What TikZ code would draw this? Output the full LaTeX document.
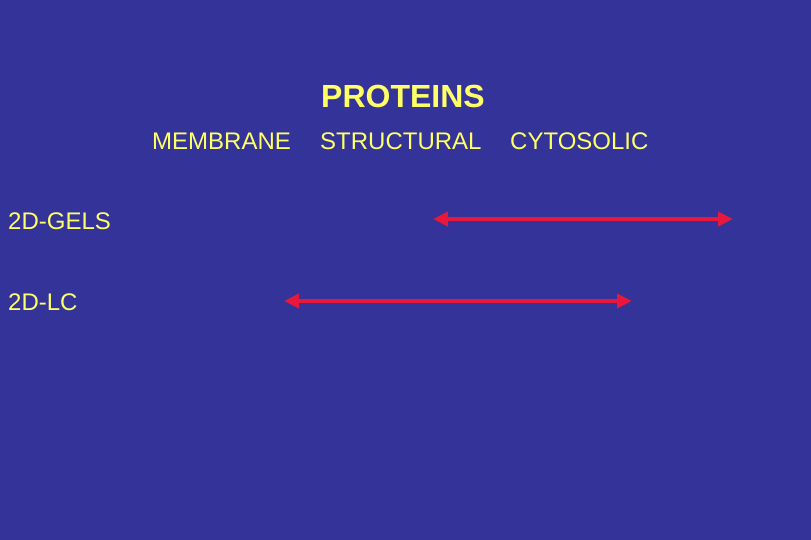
\documentclass[tikz,border=0pt]{standalone}
\usepackage{fontspec}
\setmainfont{Liberation Sans}
\usetikzlibrary{arrows.meta}
\definecolor{bg}{HTML}{333399}
\definecolor{txt}{HTML}{FFFF66}
\definecolor{arr}{HTML}{E8183C}
\begin{document}
\begin{tikzpicture}[x=1pt,y=-1pt,
  lbl/.style={text=txt,inner sep=0pt,font=\fontsize{24}{24}\selectfont},
  dbl/.style={draw=arr,line width=4pt,{Triangle[length=15pt,width=14pt]}-{Triangle[length=15pt,width=14pt]}}]
\fill[bg] (0,0) rectangle (811,540);
\useasboundingbox (0,0) rectangle (811,540);
\node[lbl,font=\bfseries\fontsize{32}{32}\selectfont] (prot) at (403,96) {PROTEINS};
\node[lbl,anchor=west] (mem) at (152,141) {MEMBRANE};
\node[lbl,anchor=west] (str) at (320,141) {STRUCTURAL};
\node[lbl,anchor=west] (cyt) at (510,141) {CYTOSOLIC};
\node[lbl,anchor=west] (gels) at (8,221) {2D-GELS};
\node[lbl,anchor=west] (lc) at (8,302) {2D-LC};
\coordinate (a1) at (433,219);
\coordinate (a2) at (733,219);
\coordinate (b1) at (284,301);
\coordinate (b2) at (632,301);
\draw[dbl] (a1) -- (a2);
\draw[dbl] (b1) -- (b2);
\end{tikzpicture}
\end{document}
